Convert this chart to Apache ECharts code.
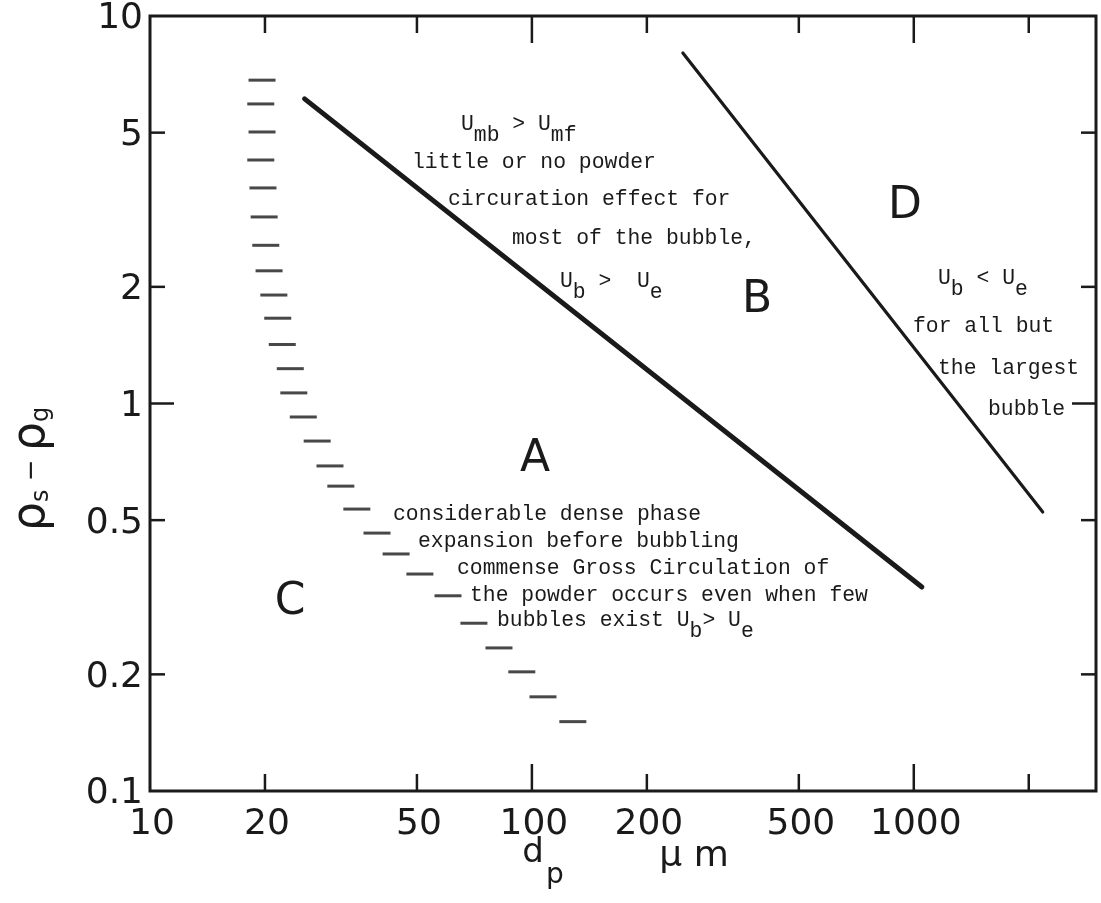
<!DOCTYPE html>
<html><head><meta charset="utf-8">
<script src="https://cdn.jsdelivr.net/npm/echarts@6/dist/echarts.min.js"></script>
<style>html,body{margin:0;padding:0;background:#fff}#c{width:1101px;height:903px}</style>
</head><body><div id="c"></div>
<script>
// ---- data ----
const xTicks = [20, 50, 100, 200, 500, 1000, 2000];
const xTickLabels = [10, 20, 50, 100, 200, 500, 1000];
const yTicks = [0.2, 0.5, 1, 2, 5];
const yTickLabels = [0.1, 0.2, 0.5, 1, 2, 5, 10];
// A / C boundary (dashed, drawn as short horizontal strokes)
const boundaryAC_d   = [19.65, 19.5, 19.65, 19.5, 19.76, 19.9, 20.1, 20.5, 21.1, 21.6, 22.2, 23.3, 23.8, 25.2, 27.4, 29.6, 31.6, 34.8, 39.3, 44.1, 50.9, 60.3, 70.5, 82.0, 94.1, 106.9, 128];
const boundaryAC_rho = [6.83, 5.93, 5.02, 4.25, 3.60, 3.03, 2.56, 2.20, 1.905, 1.66, 1.42, 1.23, 1.065, 0.923, 0.80, 0.69, 0.612, 0.534, 0.463, 0.409, 0.363, 0.319, 0.271, 0.234, 0.203, 0.175, 0.151];
// A / B boundary (thick line)
const boundaryAB_d   = [25.4, 1050];
const boundaryAB_rho = [6.11, 0.336];
// B / D boundary
const boundaryBD_d   = [248.5, 2176];
const boundaryBD_rho = [8.03, 0.525];

const X_MIN = 10, X_MAX = 3000, Y_MIN = 0.1, Y_MAX = 10;
const INK = '#1a1a1a';
const ROUND = '"DejaVu Sans"';
const MONO = '"Liberation Mono"';

function isMajor(v){ const l = Math.log10(v); return Math.abs(l - Math.round(l)) < 1e-9; }

function xTickSeries(){
  return {type:'custom', coordinateSystem:'cartesian2d', silent:true, z:5,
    data: xTicks.map(v => [v, Y_MIN]),
    renderItem: (params, api) => {
      const v = api.value(0);
      const a = api.coord([v, Y_MIN]), b = api.coord([v, Y_MAX]);
      const len = isMajor(v) ? 27 : 17;
      return {type:'group', children:[
        {type:'line', shape:{x1:a[0], y1:a[1], x2:a[0], y2:a[1]-len}, style:{stroke:INK, lineWidth:2.5}},
        {type:'line', shape:{x1:b[0], y1:b[1], x2:b[0], y2:b[1]+len}, style:{stroke:INK, lineWidth:2.5}}
      ]};
    }};
}
function yTickSeries(){
  return {type:'custom', coordinateSystem:'cartesian2d', silent:true, z:5,
    data: yTicks.map(v => [X_MIN, v]),
    renderItem: (params, api) => {
      const v = api.value(1);
      const a = api.coord([X_MIN, v]), b = api.coord([X_MAX, v]);
      const len = isMajor(v) ? 24 : 15;
      return {type:'group', children:[
        {type:'line', shape:{x1:a[0], y1:a[1], x2:a[0]+len, y2:a[1]}, style:{stroke:INK, lineWidth:2.5}},
        {type:'line', shape:{x1:b[0], y1:b[1], x2:b[0]-len, y2:b[1]}, style:{stroke:INK, lineWidth:2.5}}
      ]};
    }};
}
function xLabelSeries(){
  return {type:'custom', coordinateSystem:'cartesian2d', silent:true, z:5,
    data: xTickLabels.map(v => [v, Y_MIN]),
    renderItem: (params, api) => {
      const v = api.value(0);
      const p = api.coord([v, Y_MIN]);
      return {type:'text', x:p[0]+2, y:p[1]+16, style:{text:String(v), font:'36px '+ROUND, fill:INK, textAlign:'center', textVerticalAlign:'top'}};
    }};
}
function yLabelSeries(){
  return {type:'custom', coordinateSystem:'cartesian2d', silent:true, z:5,
    data: yTickLabels.map(v => [X_MIN, v]),
    renderItem: (params, api) => {
      const v = api.value(1);
      const p = api.coord([X_MIN, v]);
      return {type:'text', x:p[0]-7, y:p[1]+3, style:{text:String(v), font:'36px '+ROUND, fill:INK, textAlign:'right', textVerticalAlign:'middle'}};
    }};
}

const richMono = {
  n:{fontFamily:MONO, fontSize:21.4, fill:INK},
  s:{fontFamily:MONO, fontSize:21.4, fill:INK, padding:[22,0,0,0]}
};
function note(x, y, text){
  return {type:'text', x:x, y:y, z:10, silent:true,
    style:{text:text, fontFamily:MONO, fontSize:21.4, fill:INK, textAlign:'left', textVerticalAlign:'middle', rich:richMono}};
}
function big(x, y, text){
  return {type:'text', x:x, y:y, z:10, silent:true,
    style:{text:text, font:'44px '+ROUND, fill:INK, textAlign:'center', textVerticalAlign:'middle'}};
}

const chart = echarts.init(document.getElementById('c'), null, {renderer:'canvas'});
chart.setOption({
  animation:false,
  backgroundColor:'#ffffff',
  grid:{left:150, top:16, width:946, height:775, show:true, borderColor:INK, borderWidth:3, backgroundColor:'transparent'},
  xAxis:{type:'log', logBase:10, min:X_MIN, max:X_MAX, axisLine:{show:false}, axisTick:{show:false}, axisLabel:{show:false}, splitLine:{show:false}},
  yAxis:{type:'log', logBase:10, min:Y_MIN, max:Y_MAX, axisLine:{show:false}, axisTick:{show:false}, axisLabel:{show:false}, splitLine:{show:false}},
  series:[
    {type:'scatter', symbol:'rect', symbolSize:[27,3], itemStyle:{color:INK}, silent:true,
      data: boundaryAC_d.map((d,i)=>[d, boundaryAC_rho[i]])},
    {type:'line', showSymbol:false, symbol:'none', silent:true, lineStyle:{color:INK, width:5, cap:'round'},
      data: boundaryAB_d.map((d,i)=>[d, boundaryAB_rho[i]])},
    {type:'line', showSymbol:false, symbol:'none', silent:true, lineStyle:{color:INK, width:3.2, cap:'round'},
      data: boundaryBD_d.map((d,i)=>[d, boundaryBD_rho[i]])},
    xTickSeries(), yTickSeries(), xLabelSeries(), yLabelSeries()
  ],
  graphic:{elements:[
    note(461, 124, '{n|U}{s|mb}{n| > U}{s|mf}'),
    note(412, 162, 'little or no powder'),
    note(448, 199, 'circuration effect for'),
    note(512, 238, 'most of the bubble,'),
    note(560, 281, '{n|U}{s|b}{n| >  U}{s|e}'),
    note(938, 278, '{n|U}{s|b}{n| < U}{s|e}'),
    note(913, 326, 'for all but'),
    note(938, 368, 'the largest'),
    note(988, 409, 'bubble'),
    note(393, 514, 'considerable dense phase'),
    note(418, 541, 'expansion before bubbling'),
    note(457, 568, 'commense Gross Circulation of'),
    note(470, 595, 'the powder occurs even when few'),
    note(497, 620, '{n|bubbles exist U}{s|b}{n|> U}{s|e}'),
    big(535, 460, 'A'), big(757, 301, 'B'), big(290, 603, 'C'), big(905, 207, 'D'),
    {type:'text', x:533, y:853, silent:true, style:{text:'d', font:'34px '+ROUND, fill:INK, textAlign:'center', textVerticalAlign:'middle'}},
    {type:'text', x:555, y:876, silent:true, style:{text:'p', font:'28px '+ROUND, fill:INK, textAlign:'center', textVerticalAlign:'middle'}},
    {type:'text', x:694, y:857, silent:true, style:{text:'μ m', font:'36px '+ROUND, fill:INK, textAlign:'center', textVerticalAlign:'middle'}},
    {type:'text', x:32, y:469, rotation:Math.PI/2, silent:true,
      style:{text:'{r|ρ}{s|s}{m| − }{r|ρ}{s|g}', textAlign:'center', textVerticalAlign:'middle', fill:INK,
        rich:{r:{fontFamily:'DejaVu Sans', fontSize:46, fill:INK},
              s:{fontFamily:'DejaVu Sans', fontSize:24, fill:INK, padding:[20,0,0,0]},
              m:{fontFamily:'DejaVu Sans', fontSize:26, fill:INK}}}}
  ]}
});
</script></body></html>
